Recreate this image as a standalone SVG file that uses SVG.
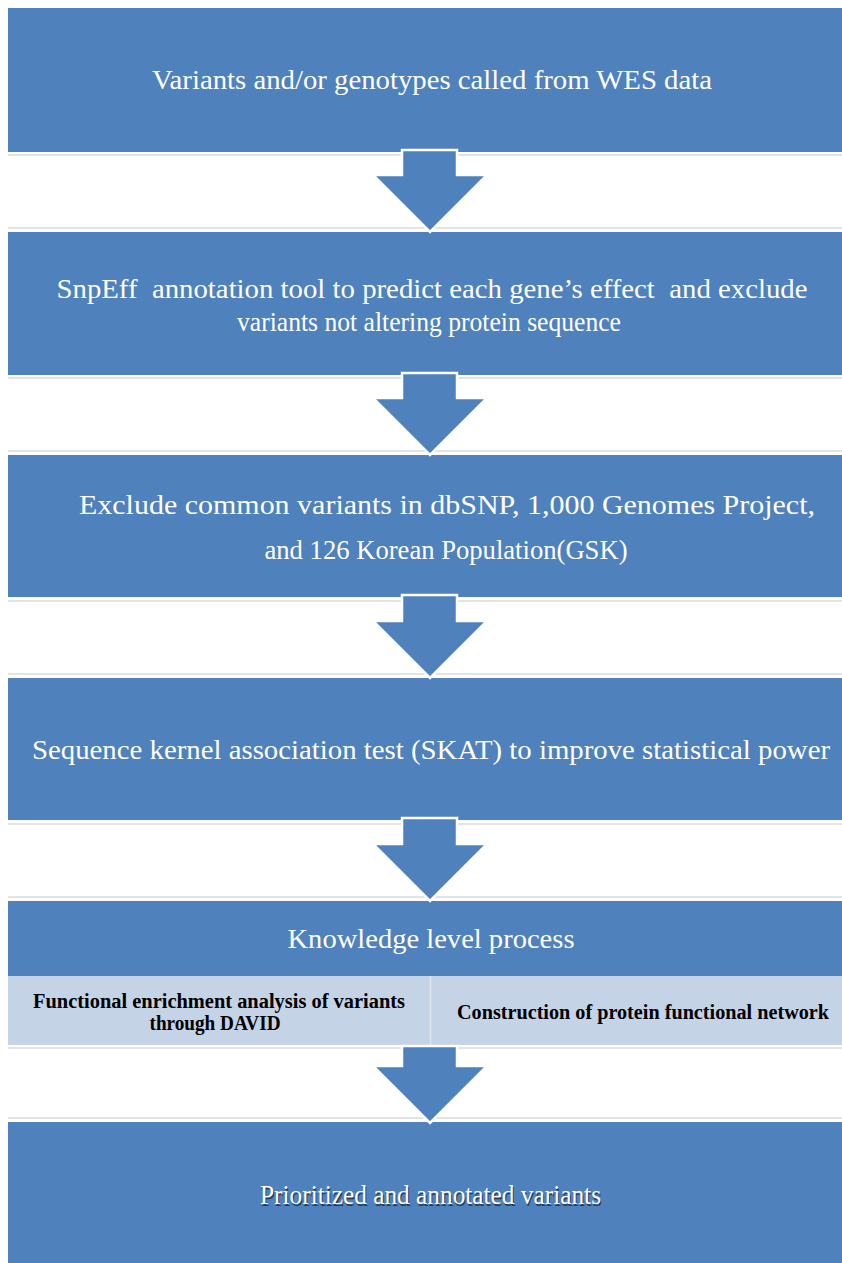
<svg xmlns="http://www.w3.org/2000/svg" width="842" height="1263" viewBox="0 0 842 1263">
<style>
.box{fill:#4f81bd}
.sub{fill:#c5d3e6}
.sh{stroke:#e3e3e3;stroke-width:2}
.t{font-family:"Liberation Serif","Times New Roman",serif;fill:#ffffff;font-size:28px;text-anchor:middle;white-space:pre}
.b{font-family:"Liberation Serif","Times New Roman",serif;fill:#000000;font-size:20px;font-weight:bold;text-anchor:middle}
.arr{fill:#4f81bd;stroke:#ffffff;stroke-width:2.5;stroke-linejoin:miter}
</style>
<rect width="842" height="1263" fill="#ffffff"/>
<g id="shadows">
<line class="sh" x1="8" y1="155" x2="842" y2="155"/>
<line class="sh" x1="8" y1="228" x2="842" y2="228"/>
<line class="sh" x1="8" y1="378" x2="842" y2="378"/>
<line class="sh" x1="8" y1="451" x2="842" y2="451"/>
<line class="sh" x1="8" y1="601" x2="842" y2="601"/>
<line class="sh" x1="8" y1="674" x2="842" y2="674"/>
<line class="sh" x1="8" y1="824" x2="842" y2="824"/>
<line class="sh" x1="8" y1="897" x2="842" y2="897"/>
<line class="sh" x1="8" y1="1048" x2="842" y2="1048"/>
<line class="sh" x1="8" y1="1118" x2="842" y2="1118"/>
</g>
<g id="node1">
<rect class="box" x="8" y="8" width="834" height="144"/>
<text class="t" x="432" y="89" textLength="560" lengthAdjust="spacingAndGlyphs">Variants and/or genotypes called from WES data</text>
</g>
<g id="node2">
<rect class="box" x="8" y="232" width="834" height="143"/>
<text class="t" x="432" y="298" textLength="751" lengthAdjust="spacingAndGlyphs">SnpEff  annotation tool to predict each gene’s effect  and exclude</text>
<text class="t" x="429" y="331" textLength="384" lengthAdjust="spacingAndGlyphs">variants not altering protein sequence</text>
</g>
<g id="node3">
<rect class="box" x="8" y="455" width="834" height="142"/>
<text class="t" x="447" y="514" textLength="736" lengthAdjust="spacingAndGlyphs">Exclude common variants in dbSNP, 1,000 Genomes Project,</text>
<text class="t" x="446" y="559" textLength="363" lengthAdjust="spacingAndGlyphs">and 126 Korean Population(GSK)</text>
</g>
<g id="node4">
<rect class="box" x="8" y="678" width="834" height="142"/>
<text class="t" x="431" y="759" textLength="798" lengthAdjust="spacingAndGlyphs">Sequence kernel association test (SKAT) to improve statistical power</text>
</g>
<g id="node5">
<rect class="box" x="8" y="901" width="834" height="75"/>
<text class="t" x="431" y="948" textLength="287" lengthAdjust="spacingAndGlyphs">Knowledge level process</text>
</g>
<g id="node5a">
<rect class="sub" x="8" y="976" width="422" height="69"/>
<text class="b" x="219" y="1008" textLength="372" lengthAdjust="spacingAndGlyphs">Functional enrichment analysis of variants</text>
<text class="b" x="215" y="1030" textLength="131" lengthAdjust="spacingAndGlyphs">through DAVID</text>
</g>
<g id="node5b">
<rect class="sub" x="431" y="976" width="411" height="69"/>
<text class="b" x="643" y="1019" textLength="372" lengthAdjust="spacingAndGlyphs">Construction of protein functional network</text>
</g>
<line x1="430.5" y1="976" x2="430.5" y2="1045" stroke="#dde5f0" stroke-width="1.5"/>
<g id="node6">
<rect class="box" x="8" y="1122" width="834" height="141"/>
<text class="t" x="431.5" y="1205.5" textLength="341" lengthAdjust="spacingAndGlyphs" style="fill:#2b3a4f">Prioritized and annotated variants</text>
<text class="t" x="430.5" y="1204" textLength="341" lengthAdjust="spacingAndGlyphs">Prioritized and annotated variants</text>
</g>
<g id="connectors">
<path class="arr" d="M402,150 L457,150 L457,175 L487,175 L430,232 L373,175 L402,175 Z"/>
<path class="arr" d="M402,373 L457,373 L457,398 L487,398 L430,455 L373,398 L402,398 Z"/>
<path class="arr" d="M402,595 L457,595 L457,621 L487,621 L430,678 L373,621 L402,621 Z"/>
<path class="arr" d="M402,818 L457,818 L457,844 L487,844 L430,901 L373,844 L402,844 Z"/>
<path class="arr" d="M402,1046 L457,1046 L457,1066 L487,1066 L430,1123 L373,1066 L402,1066 Z"/>
</g>
</svg>
